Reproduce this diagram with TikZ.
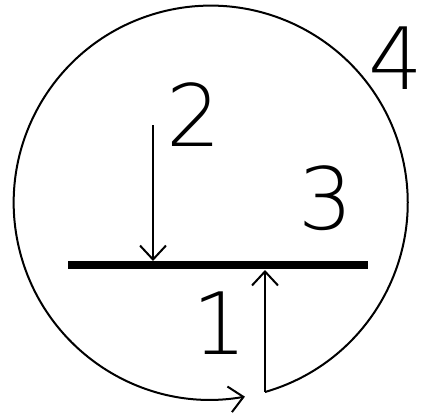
\documentclass[tikz,border=0pt]{standalone}
\usepackage{fontspec}
\newfontfamily\handfont{DejaVu Sans ExtraLight}
\usetikzlibrary{arrows.meta}
\begin{document}
\begin{tikzpicture}[x=1pt,y=-1pt,
  rim/.style={line width=2pt},
  force/.style={line width=2.4pt,-{Straight Barb[length=14pt,width=26pt,line width=2pt]}},
  plate/.style={line width=7.5pt},
  digit/.style={font=\handfont\fontsize{86}{86}\selectfont, inner sep=0pt}]
\useasboundingbox (0,0) rectangle (425,413);
\coordinate (c) at (210,202);
\coordinate (b1) at (265,392);
\coordinate (t1) at (265,270);
\coordinate (b2) at (153,125);
\coordinate (t2) at (153,261);
\coordinate (pl) at (68,265);
\coordinate (pr) at (368,265);
% rim with arrow
\draw[rim,-{Straight Barb[length=14pt,width=26pt,line width=2pt]}] (b1) arc[start angle=74, end angle=-280, radius=197];
% plate
\draw[plate] (pl) -- (pr);
% forces
\draw[force] (b2) -- (t2);
\draw[force] (b1) -- (t1);
% labels
\node[digit] (n2) at (194,115) {2};
\node[digit] (n3) at (326,198) {3};
\node[digit] (n1) at (220,323) {1};
\node[digit] (n4) at (396,58) {4};
\end{tikzpicture}
\end{document}
